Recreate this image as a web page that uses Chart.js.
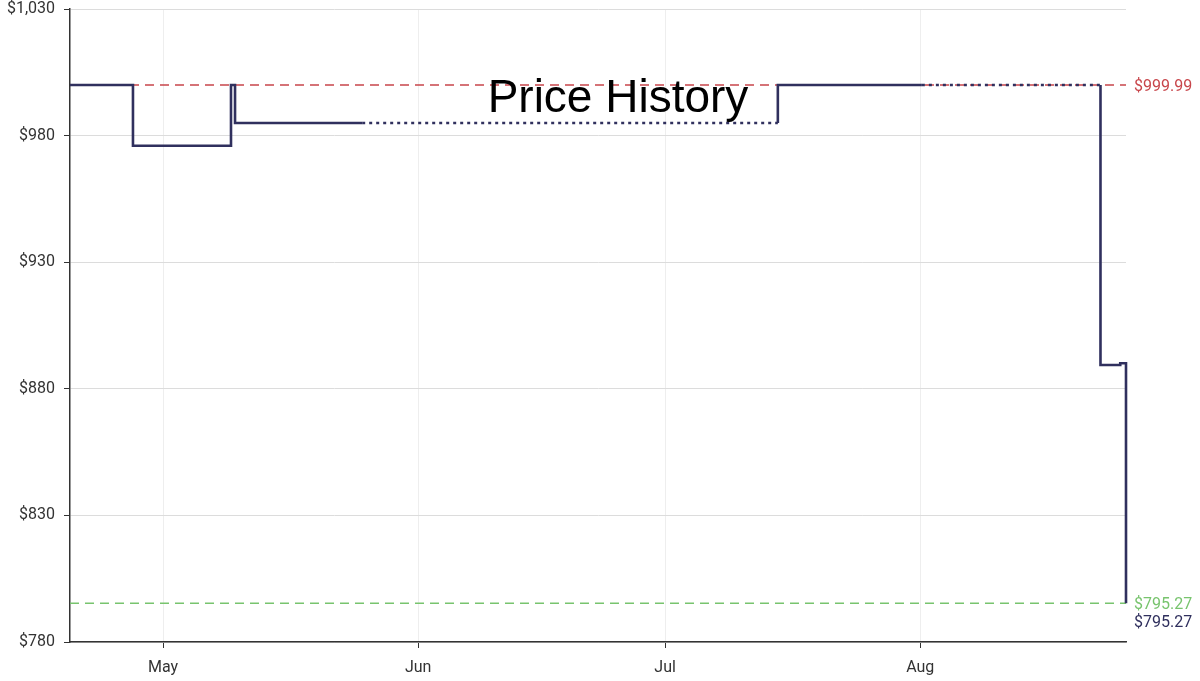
<!DOCTYPE html>
<html>
<head>
<meta charset="utf-8">
<title>Price History</title>
<script src="https://cdn.jsdelivr.net/npm/chart.js@4/dist/chart.umd.min.js"></script>
<style>
  html, body { margin: 0; padding: 0; background: #fff; }
  #wrap { width: 1200px; height: 681px; }
</style>
</head>
<body>
<div id="wrap"><canvas id="grafico" width="1200" height="681"></canvas></div>
<script>
// dias contados desde el 1 de mayo
const priceDays   = [-11.3, -3.65, 8.26, 8.75, 24.2, 74.7, 74.7, 92.2, 113.9, 113.9, 116.3, 117.0];
const priceValues = [999.99, 975.99, 999.99, 984.99, 984.99, 984.99, 999.99, 999.99, 999.99, 889.4, 890.1, 795.27];
// segmentos sin datos (punteados)
const dottedFrom = [4, 7];

const highPrice = 999.99;
const lowPrice = 795.27;
const currentPrice = 795.27;

const monthDays = [0, 31, 61, 92];
const monthLabels = ["May", "Jun", "Jul", "Aug"];
const yTicks = [780, 830, 880, 930, 980, 1030];

const xMin = -11.3, xMax = 117.0;

const navy = "#30305e";
const red = "#c8464b";
const green = "#78c46e";

function fmt(v) {
  return "$" + v.toLocaleString("en-US");
}

// titulo y etiquetas de la derecha
const extras = {
  id: "extras",
  afterDraw(chart) {
    const c = chart.ctx;
    const y = chart.scales.y;
    c.save();
    c.fillStyle = "#000";
    c.font = "46px 'Liberation Sans', Arial, sans-serif";
    c.textAlign = "center";
    c.textBaseline = "alphabetic";
    c.fillText("Price History", 618, 112);

    c.font = "16px Roboto, sans-serif";
    c.textAlign = "left";
    c.textBaseline = "middle";
    const x = chart.chartArea.right + 8;
    c.fillStyle = red;
    c.fillText(fmt(highPrice), x, y.getPixelForValue(highPrice) + 2);
    c.fillStyle = green;
    c.fillText(fmt(lowPrice), x, y.getPixelForValue(lowPrice) + 2);
    c.fillStyle = navy;
    c.fillText(fmt(currentPrice), x, y.getPixelForValue(currentPrice) + 20);
    c.restore();
  }
};

const ctx = document.getElementById("grafico").getContext("2d");
new Chart(ctx, {
  type: "line",
  data: {
    datasets: [
      {
        label: "Price",
        data: priceDays.map((d, i) => ({ x: d, y: priceValues[i] })),
        borderColor: navy,
        borderWidth: 2.6,
        stepped: "before",
        pointRadius: 0,
        fill: false,
        clip: 4,
        order: 0,
        segment: {
          borderDash: s => dottedFrom.includes(s.p0DataIndex) ? [3, 4] : undefined
        }
      },
      {
        label: "Highest",
        data: [{ x: xMin, y: highPrice }, { x: xMax, y: highPrice }],
        borderColor: red,
        borderWidth: 1.5,
        borderDash: [9, 6],
        pointRadius: 0,
        order: 1
      },
      {
        label: "Lowest",
        data: [{ x: xMin, y: lowPrice }, { x: xMax, y: lowPrice }],
        borderColor: green,
        borderWidth: 1.5,
        borderDash: [9, 6],
        pointRadius: 0,
        order: 1
      }
    ]
  },
  options: {
    responsive: false,
    animation: false,
    layout: { padding: { top: 9, right: 74, left: 0, bottom: 0 } },
    plugins: {
      legend: { display: false },
      tooltip: { enabled: false }
    },
    scales: {
      x: {
        type: "linear",
        min: xMin,
        max: xMax,
        afterBuildTicks: s => { s.ticks = monthDays.map(v => ({ value: v })); },
        afterFit: s => { s.height = 39; s.paddingLeft = 0; s.paddingRight = 0; },
        ticks: {
          color: "#333",
          font: { family: "Roboto", size: 16 },
          padding: 10,
          maxRotation: 0,
          callback: v => monthLabels[monthDays.indexOf(v)] || ""
        },
        grid: { color: "#eeeeee", tickColor: "#333", tickLength: 6 },
        border: { color: "#333", width: 1.5 }
      },
      y: {
        min: 780,
        max: 1030,
        afterBuildTicks: s => { s.ticks = yTicks.map(v => ({ value: v })); },
        afterFit: s => { s.width = 70; s.paddingTop = 0; s.paddingBottom = 0; },
        ticks: {
          color: "#333",
          font: { family: "Roboto", size: 16 },
          padding: 9,
          callback: v => fmt(v)
        },
        grid: { color: "#dcdcdc", tickColor: "#333", tickLength: 6 },
        border: { color: "#333", width: 1.5 }
      }
    }
  },
  plugins: [extras]
});
</script>
</body>
</html>
